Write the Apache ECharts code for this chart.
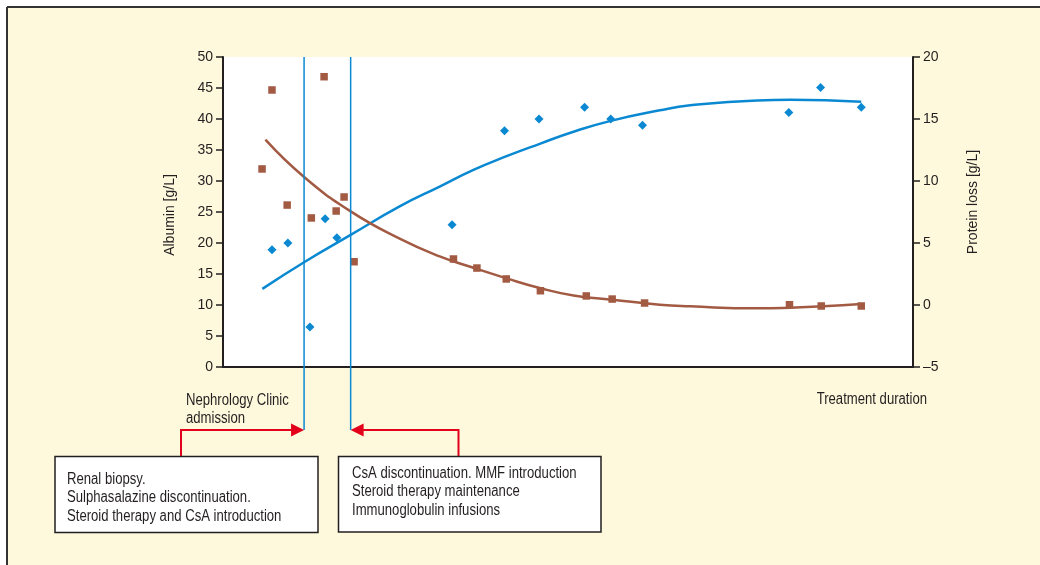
<!DOCTYPE html>
<html><head><meta charset="utf-8">
<script src="https://cdn.jsdelivr.net/npm/echarts@6/dist/echarts.min.js"></script>
<style>html,body{margin:0;padding:0;background:#fff}#c{width:1040px;height:565px}</style>
</head><body><div id="c"></div>
<script>
// ---- data (x = treatment duration, arbitrary units 0..100) ----
const albuminX = [7.1, 9.4, 12.6, 14.8, 16.5, 33.2, 40.8, 45.8, 52.4, 56.2, 60.8, 82.0, 86.6, 92.5];
const albuminY = [18.9, 20.0, 6.45, 23.9, 20.85, 22.95, 38.1, 40.0, 41.9, 40.0, 39.0, 41.05, 45.1, 41.9];
const proteinX = [5.66, 7.1, 9.3, 12.8, 14.65, 16.4, 17.55, 19.0, 33.4, 36.8, 41.05, 46.0, 52.65, 56.4, 61.1, 82.1, 86.7, 92.5];
const proteinY = [10.97, 17.34, 8.06, 7.02, 18.41, 7.58, 8.71, 3.49, 3.71, 2.98, 2.10, 1.15, 0.73, 0.48, 0.16, 0.02, -0.08, -0.08];
const albTrendX = [5.7, 11.75, 18.5, 25.6, 31.4, 36.3, 41.1, 45.9, 50.8, 56.2, 63.3, 67.7, 77.4, 82.2, 92.5];
const albTrendY = [12.6, 16.9, 21.3, 25.9, 29.1, 31.8, 34.0, 36.0, 37.95, 39.7, 41.4, 42.2, 43.0, 43.1, 42.8];
const protTrendX = [6.15, 11.75, 18.5, 25.6, 31.4, 36.3, 41.1, 45.9, 50.8, 56.4, 63.3, 67.7, 77.4, 82.2, 87.0, 92.5];
const protTrendY = [13.33, 10.32, 7.55, 5.35, 3.92, 3.0, 2.15, 1.37, 0.77, 0.43, 0.02, -0.11, -0.27, -0.22, -0.11, 0.08];
const eventX = [11.75, 18.5];
const eventText = [
  ['Renal biopsy.', 'Sulphasalazine discontinuation.', 'Steroid therapy and CsA introduction'],
  ['CsA discontinuation. MMF introduction', 'Steroid therapy maintenance', 'Immunoglobulin infusions']
];
const leftAxisName = 'Albumin [g/L]';
const rightAxisName = 'Protein loss [g/L]';
const admissionText = ['Nephrology Clinic', 'admission'];
const xAxisText = 'Treatment duration';

(function () {
function fontAvailable(name){
  const c = document.createElement('canvas').getContext('2d');
  const s = 'Steroid therapy and CsA introduction 0123456789';
  c.font = '16px monospace'; const a = c.measureText(s).width;
  c.font = '16px "' + name + '", monospace'; const b = c.measureText(s).width;
  return Math.abs(a - b) > 0.5;
}
const narrow = fontAvailable('Liberation Sans Narrow');
const FONT = narrow ? '"Liberation Sans Narrow", "Liberation Sans", Arial, sans-serif' : '"Liberation Sans", Arial, sans-serif';
const AFS = narrow ? 16 : 14;
const GFS = 16;
const GSX = narrow ? 1 : 0.82;
const TXT = '#231f20';
const BLUE = '#0a89d2';
const BROWN = '#a35a43';
const RED = '#e2001a';

const zip = (xs, ys) => xs.map((x, i) => [x, ys[i]]);

const chart = echarts.init(document.getElementById('c'), null, {renderer: 'canvas'});
const axisCommon = {
  axisLine: {show: true, lineStyle: {color: TXT, width: 2}},
  axisTick: {show: true, length: 7, lineStyle: {color: TXT, width: 1.5}},
  axisLabel: {color: TXT, fontSize: AFS, fontFamily: FONT, margin: 10,
    formatter: v => (v < 0 ? '\u2013' + Math.abs(v) : String(v))},
  splitLine: {show: false},
  nameLocation: 'middle',
  nameRotate: 90
};
chart.setOption({
  backgroundColor: '#fef9dc',
  animation: false,
  grid: {left: 223, right: 127, top: 57, bottom: 198, show: true, backgroundColor: '#ffffff', borderWidth: 0, containLabel: false},
  xAxis: {type: 'value', min: 0, max: 100, axisLine: {show: true, onZero: false, lineStyle: {color: TXT, width: 2}},
    axisTick: {show: false}, axisLabel: {show: false}, splitLine: {show: false}},
  yAxis: [
    Object.assign({}, axisCommon, {type: 'value', position: 'left', min: 0, max: 50, interval: 5, name: leftAxisName, nameGap: 46,
      nameTextStyle: {color: TXT, fontSize: AFS, fontFamily: FONT, padding: [0, 6, 0, 0]}}),
    Object.assign({}, axisCommon, {type: 'value', position: 'right', min: -5, max: 20, interval: 5, name: rightAxisName, nameGap: 53,
      nameTextStyle: {color: TXT, fontSize: AFS, fontFamily: FONT, padding: [0, 0, 0, 20]}})
  ],
  series: [
    {type: 'line', name: 'albTrend', data: zip(albTrendX, albTrendY), smooth: true, showSymbol: false, symbol: 'none',
      lineStyle: {color: BLUE, width: 2.5}, z: 2},
    {type: 'line', name: 'protTrend', yAxisIndex: 1, data: zip(protTrendX, protTrendY), smooth: true, showSymbol: false, symbol: 'none',
      lineStyle: {color: BROWN, width: 2.5}, z: 2},
    {type: 'scatter', name: 'Albumin', data: zip(albuminX, albuminY), symbol: 'diamond', symbolSize: 9,
      itemStyle: {color: BLUE, opacity: 1}, z: 3},
    {type: 'scatter', name: 'Protein loss', yAxisIndex: 1, data: zip(proteinX, proteinY), symbol: 'rect', symbolSize: 7.5,
      itemStyle: {color: BROWN, opacity: 1}, z: 3}
  ]
});

const topY = chart.convertToPixel({yAxisIndex: 0}, 50);
const ex = eventX.map(v => chart.convertToPixel({xAxisIndex: 0}, v));
const arrowY = 430;
const g = [];
g.push({type: 'rect', shape: {x: 0, y: 0, width: 1040, height: 6}, style: {fill: '#fff'}, silent: true, z: 0});
g.push({type: 'rect', shape: {x: 0, y: 0, width: 6, height: 565}, style: {fill: '#fff'}, silent: true, z: 0});
g.push({type: 'line', shape: {x1: 7, y1: 7, x2: 1040, y2: 7}, style: {stroke: '#333', lineWidth: 2}, silent: true, z: 1});
g.push({type: 'line', shape: {x1: 7, y1: 7, x2: 7, y2: 565}, style: {stroke: '#333', lineWidth: 2}, silent: true, z: 1});
ex.forEach(x => g.push({type: 'line', shape: {x1: x, y1: topY, x2: x, y2: arrowY}, style: {stroke: BLUE, lineWidth: 1.5}, silent: true, z: 10}));
g.push({type: 'polyline', shape: {points: [[181, 458], [181, arrowY], [ex[0] - 11, arrowY]]}, style: {stroke: RED, lineWidth: 2, fill: null}, silent: true, z: 10});
g.push({type: 'polygon', shape: {points: [[ex[0], arrowY], [ex[0] - 13, arrowY - 6.5], [ex[0] - 13, arrowY + 6.5]]}, style: {fill: RED}, silent: true, z: 10});
g.push({type: 'polyline', shape: {points: [[458.5, 458], [458.5, arrowY], [ex[1] + 11, arrowY]]}, style: {stroke: RED, lineWidth: 2, fill: null}, silent: true, z: 10});
g.push({type: 'polygon', shape: {points: [[ex[1], arrowY], [ex[1] + 13, arrowY - 6.5], [ex[1] + 13, arrowY + 6.5]]}, style: {fill: RED}, silent: true, z: 10});
g.push({type: 'rect', shape: {x: 55, y: 456.5, width: 263, height: 76}, style: {fill: '#fff', stroke: TXT, lineWidth: 1.5}, silent: true, z: 11});
g.push({type: 'rect', shape: {x: 338.5, y: 456.5, width: 262.5, height: 75.5}, style: {fill: '#fff', stroke: TXT, lineWidth: 1.5}, silent: true, z: 11});
const tfont = GFS + 'px ' + FONT;
g.push({type: 'text', x: 67, y: 470, scaleX: GSX, style: {text: eventText[0].join('\n'), fill: TXT, font: tfont, lineHeight: 18.7, verticalAlign: 'top', align: 'left'}, silent: true, z: 12});
g.push({type: 'text', x: 352, y: 464, scaleX: GSX, style: {text: eventText[1].join('\n'), fill: TXT, font: tfont, lineHeight: 18.7, verticalAlign: 'top', align: 'left'}, silent: true, z: 12});
g.push({type: 'text', x: 186, y: 391, scaleX: GSX, style: {text: admissionText.join('\n'), fill: TXT, font: tfont, lineHeight: 18.5, verticalAlign: 'top', align: 'left'}, silent: true, z: 12});
g.push({type: 'text', x: 927, y: 399.5, scaleX: GSX, style: {text: xAxisText, fill: TXT, font: tfont, verticalAlign: 'middle', align: 'right'}, silent: true, z: 12});
chart.setOption({graphic: g});
})();
</script>
</body></html>
